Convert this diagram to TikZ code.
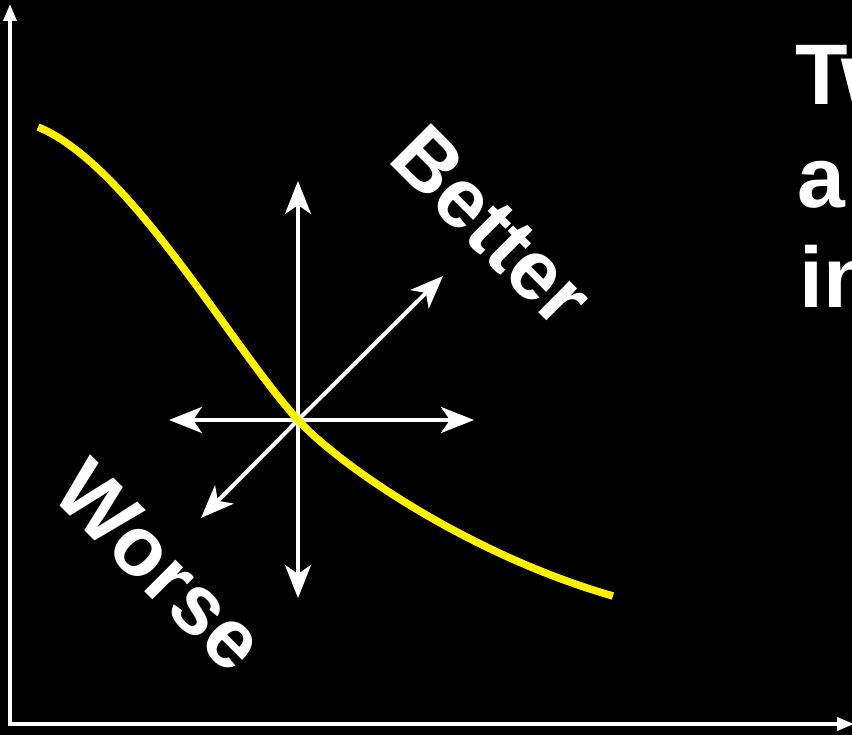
\documentclass[tikz,border=0pt]{standalone}
\usepackage{fontspec}
\setmainfont{Liberation Sans}
\usetikzlibrary{arrows.meta}
\begin{document}
\begin{tikzpicture}[x=1pt,y=-1pt,
  axisline/.style={draw=white,line width=3.5pt,-{Triangle[length=17pt,width=13pt]}},
  dirarrow/.style={draw=white,line width=4pt,-{Stealth[length=33pt,width=26pt,inset=9pt]}},
  bigtext/.style={text=white,font=\fontsize{86}{100}\selectfont\bfseries,inner sep=0pt,anchor=base west},
  rottext/.style={text=white,font=\fontsize{84}{96}\selectfont\bfseries,inner sep=0pt,rotate=-45}]
\fill[black] (0,0) rectangle (852,735);
\useasboundingbox (0,0) rectangle (852,735);
% axes
\coordinate (ytop) at (10,4);
\coordinate (xend) at (854,724);
\draw[axisline] (10,726) -- (ytop);
\draw[axisline] (8.5,724) -- (xend);
% centre and arrow ends
\coordinate (c) at (298,420);
\coordinate (up) at (298,181);
\coordinate (down) at (298,598);
\coordinate (left) at (169,420);
\coordinate (right) at (474,420);
\coordinate (ur) at (443,276);
\coordinate (dl) at (201,518);
\draw[dirarrow] (c) -- (up);
\draw[dirarrow] (c) -- (down);
\draw[dirarrow] (c) -- (left);
\draw[dirarrow] (c) -- (right);
\draw[dirarrow] (c) -- (ur);
\draw[dirarrow] (c) -- (dl);
% yellow curve
\coordinate (cs) at (38,127);
\coordinate (ce) at (613,596);
\draw[yellow,line width=7.5pt] (cs) .. controls (130,165) and (230,345) .. (c)
  .. controls (340,466) and (470,555) .. (ce);
% labels
\node[rottext] (better) at (492,226) {Better};
\node[rottext] (worse) at (160,566) {Worse};
\node[bigtext] (t1) at (795,105) {Two};
\node[bigtext] (t2) at (797,208) {a};
\node[bigtext] (t3) at (799,308) {in};
\end{tikzpicture}
\end{document}
